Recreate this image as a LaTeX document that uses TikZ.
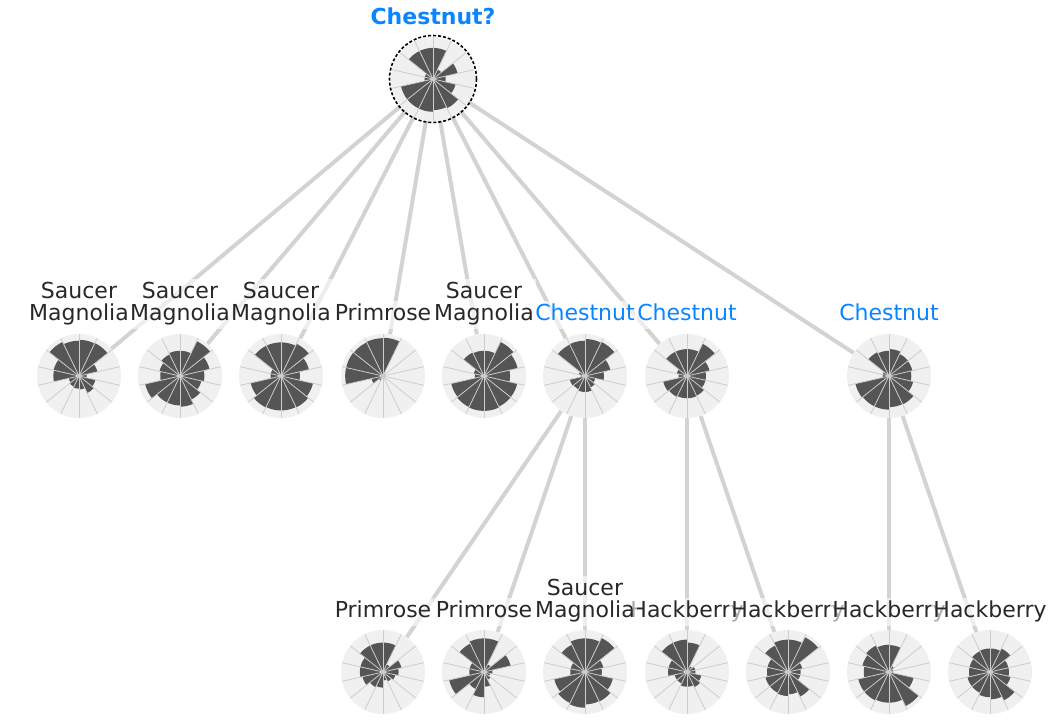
\documentclass[tikz,border=0pt]{standalone}
\usepackage{fontspec}
\setmainfont{DejaVu Sans}
\pgfdeclarelayer{bg}
\pgfsetlayers{bg,main}
\definecolor{edgec}{RGB}{211,211,211}
\definecolor{discc}{RGB}{240,240,240}
\definecolor{barc}{RGB}{85,85,85}
\definecolor{spokec}{RGB}{205,205,205}
\definecolor{txtc}{RGB}{40,40,40}
\definecolor{bluec}{RGB}{10,132,255}
\tikzset{
 disc/.style={circle, fill=discc, minimum size=84pt, inner sep=0pt, draw=none},
 edge/.style={draw=edgec, line width=4pt},
 bar/.style={fill=barc},
 spoke/.style={draw=spokec, line width=0.8pt},
 rootring/.style={draw=black, line width=1.6pt, dash pattern=on 3pt off 2pt},
 lab/.style={font=\fontsize{22}{22}\selectfont, text=txtc, fill=white, fill opacity=0.6, text opacity=1, inner xsep=2pt, inner ysep=3pt, align=center, anchor=south, text depth=5pt},
 blab/.style={lab, text=bluec},
 rlab/.style={lab, text=bluec, font=\fontsize{22}{22}\selectfont\bfseries, fill=none},
}
\newcommand\rosechart[4]{%
  \node[disc] (#1) at (#2,#3) {};
  \begin{scope}[shift={(#2,#3)}, yscale=-1]
    \foreach \rad [count=\k from 0] in {#4} {
      \pgfmathsetmacro\aa{90-25.7142857*\k}
      \pgfmathsetmacro\ab{\aa-25.7142857}
      \fill[bar] (0,0) -- plot[domain=\ab:\aa, samples=9] (\x:{\rad*42}) -- cycle;
    }
    \foreach \k in {0,...,13}{\draw[spoke] (0,0) -- ({90-25.7142857*\k}:42);}
    \fill[spokec] (0,0) circle (2);
  \end{scope}
}
\begin{document}
\begin{tikzpicture}[x=1pt,y=-1pt]
\useasboundingbox (0,0) rectangle (1055,726);
% root
\rosechart{root}{433}{79}{0.74,0.25,0.6,0.3,0.55,0.77,0.74,0.78,0.78,0.78,0.2,0.2,0.74,0.74}
\draw[rootring] (root.center) circle (43.5);
% middle row
\rosechart{m1}{79}{376}{0.86,0.87,0.45,0.18,0.4,0.45,0.32,0.3,0.28,0.25,0.61,0.62,0.9,0.84}
\rosechart{m2}{180}{376}{0.6,0.92,0.72,0.58,0.52,0.62,0.73,0.7,0.7,0.85,0.47,0.5,0.57,0.6}
\rosechart{m3}{281}{376}{0.8,0.85,0.68,0.45,0.78,0.83,0.82,0.82,0.83,0.74,0.25,0.25,0.8,0.8}
\rosechart{m4}{383}{376}{0.91,0.05,0.05,0.05,0.05,0.05,0.05,0.05,0.12,0.28,0.9,0.9,0.89,0.9}
\rosechart{m5}{484}{376}{0.6,0.9,0.82,0.62,0.81,0.81,0.83,0.83,0.82,0.8,0.22,0.25,0.62,0.6}
\rosechart{m6}{585}{376}{0.88,0.9,0.62,0.45,0.25,0.3,0.38,0.38,0.35,0.37,0.1,0.15,0.83,0.84}
\rosechart{m7}{687}{376}{0.64,0.85,0.55,0.45,0.45,0.52,0.53,0.53,0.55,0.58,0.2,0.25,0.64,0.64}
\rosechart{m8}{889}{376}{0.64,0.58,0.57,0.53,0.59,0.75,0.74,0.8,0.8,0.82,0.15,0.15,0.63,0.6}
% bottom row
\rosechart{b1}{383}{672}{0.7,0.2,0.45,0.37,0.3,0.25,0.2,0.37,0.4,0.5,0.55,0.55,0.7,0.7}
\rosechart{b2}{484}{672}{0.8,0.2,0.65,0.2,0.15,0.2,0.35,0.6,0.45,0.85,0.35,0.35,0.75,0.8}
\rosechart{b3}{585}{672}{0.8,0.9,0.45,0.4,0.68,0.78,0.77,0.85,0.82,0.75,0.35,0.35,0.72,0.8}
\rosechart{b4}{687}{672}{0.7,0.15,0.2,0.2,0.35,0.4,0.35,0.35,0.3,0.3,0.45,0.45,0.77,0.77}
\rosechart{b5}{788}{672}{0.77,0.92,0.35,0.3,0.3,0.65,0.53,0.57,0.55,0.55,0.5,0.5,0.7,0.77}
\rosechart{b6}{889}{672}{0.64,0.15,0.1,0.1,0.6,0.9,0.73,0.73,0.75,0.75,0.6,0.65,0.7,0.65}
\rosechart{b7}{990}{672}{0.56,0.62,0.45,0.45,0.5,0.75,0.65,0.6,0.55,0.55,0.5,0.5,0.55,0.56}
% edges
\begin{pgfonlayer}{bg}
\foreach \c in {m1,m2,m3,m4,m5,m6,m7,m8} {\draw[edge] (root) -- (\c);}
\foreach \c in {b1,b2,b3} {\draw[edge] (m6) -- (\c);}
\foreach \c in {b4,b5} {\draw[edge] (m7) -- (\c);}
\foreach \c in {b6,b7} {\draw[edge] (m8) -- (\c);}
\end{pgfonlayer}
% labels
\node[rlab] (lroot) at (433,33) {Chestnut?};
\node[lab] (lm1) at (79,329) {Saucer\\Magnolia};
\node[lab] (lm2) at (180,329) {Saucer\\Magnolia};
\node[lab] (lm3) at (281,329) {Saucer\\Magnolia};
\node[lab] (lm4) at (383,329) {Primrose};
\node[lab] (lm5) at (484,329) {Saucer\\Magnolia};
\node[blab] (lm6) at (585,329) {Chestnut};
\node[blab] (lm7) at (687,329) {Chestnut};
\node[blab] (lm8) at (889,329) {Chestnut};
\node[lab] (lb4) at (687,626) {Hackberry};
\node[lab] (lb3) at (585,626) {Saucer\\Magnolia};
\node[lab] (lb2) at (484,626) {Primrose};
\node[lab] (lb1) at (383,626) {Primrose};
\node[lab] (lb5) at (788,626) {Hackberry};
\node[lab] (lb6) at (889,626) {Hackberry};
\node[lab] (lb7) at (990,626) {Hackberry};
\end{tikzpicture}
\end{document}
